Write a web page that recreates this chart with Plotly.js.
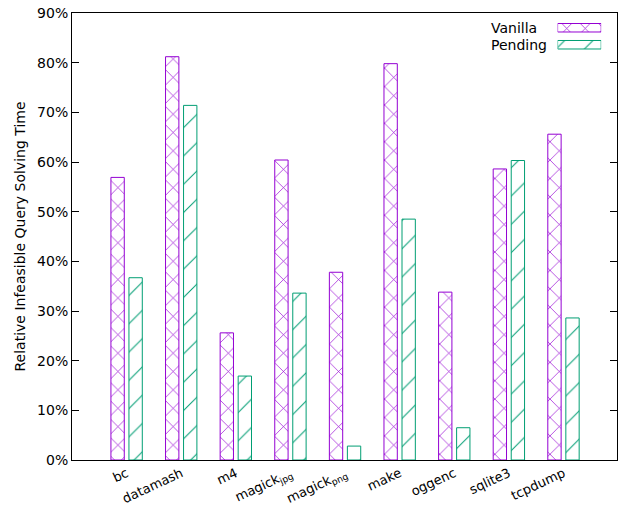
<!DOCTYPE html>
<html>
<head>
<meta charset="utf-8">
<script src="https://cdn.plot.ly/plotly-3.0.1.min.js"></script>
<style>html,body{margin:0;padding:0;background:#fff;}#chart{width:629px;height:505px;}</style>
</head>
<body>
<div id="chart"></div>
<script>
const categories = ["bc", "datamash", "m4", "magick<sub>jpg</sub>", "magick<sub>png</sub>", "make", "oggenc", "sqlite3", "tcpdump"];
const vanilla = [56.9, 81.2, 25.6, 60.4, 37.8, 79.8, 33.8, 58.6, 65.6];
const pending = [36.7, 71.4, 16.9, 33.6, 2.8, 48.5, 6.5, 60.3, 28.6];
const seriesNames = ["Vanilla", "Pending"];
const yTickVals = [0, 10, 20, 30, 40, 50, 60, 70, 80, 90];
const yTickText = yTickVals.map(v => v + "%");

const purple = "#9400d3";
const green = "#009e73";
const font = "DejaVu Sans, sans-serif";

const vanillaPattern = {shape: "x", fgcolor: purple, bgcolor: "#ffffff", size: 13, solidity: 0.1, fillmode: "replace"};
const pendingPattern = {shape: "/", fgcolor: green, bgcolor: "#ffffff", size: 20, solidity: 0.05, fillmode: "replace"};

const traces = [
  {type: "bar", name: seriesNames[0], x: categories, y: vanilla, xaxis: "x", yaxis: "y",
   marker: {color: "#ffffff", pattern: vanillaPattern, line: {color: purple, width: 1}}, showlegend: false},
  {type: "bar", name: seriesNames[1], x: categories, y: pending, xaxis: "x", yaxis: "y",
   marker: {color: "#ffffff", pattern: pendingPattern, line: {color: green, width: 1}}, showlegend: false},
  // legend swatches
  {type: "bar", orientation: "h", x: [1], y: [seriesNames[0]], xaxis: "x2", yaxis: "y2", width: 0.5,
   marker: {color: "#ffffff", pattern: vanillaPattern, line: {color: purple, width: 1}}, showlegend: false, hoverinfo: "skip"},
  {type: "bar", orientation: "h", x: [1], y: [seriesNames[1]], xaxis: "x2", yaxis: "y2", width: 0.5,
   marker: {color: "#ffffff", pattern: pendingPattern, line: {color: green, width: 1}}, showlegend: false, hoverinfo: "skip"}
];

const layout = {
  width: 629, height: 505,
  margin: {l: 72, r: 12, t: 13, b: 45},
  paper_bgcolor: "#ffffff", plot_bgcolor: "#ffffff",
  font: {family: font, size: 14, color: "#000000"},
  barmode: "group", bargap: 0.34, bargroupgap: 0.26,
  showlegend: false,
  xaxis: {
    type: "category", range: [-1, 8.98], tickangle: -25,
    showline: true, linecolor: "#000", linewidth: 1, mirror: true,
    ticks: "", showgrid: false, zeroline: false, ticklabelstandoff: 0,
    tickfont: {family: font, size: 13, color: "#000"}, automargin: false
  },
  yaxis: {
    range: [0, 90], tickvals: yTickVals, ticktext: yTickText,
    showline: true, linecolor: "#000", linewidth: 1, mirror: "ticks",
    ticks: "inside", ticklen: 7, tickcolor: "#000",
    showgrid: false, zeroline: false,
    tickfont: {family: font, size: 14, color: "#000"},
    title: {text: "Relative Infeasible Query Solving Time", font: {family: font, size: 14, color: "#000"}, standoff: 8},
    automargin: false
  },
  xaxis2: {domain: [0.891, 0.971], range: [0, 1], visible: false, anchor: "y2", fixedrange: true},
  yaxis2: {domain: [0.910, 0.986], range: [1.5, -0.5], type: "category", visible: false, anchor: "x2", fixedrange: true},
  annotations: [
    {text: seriesNames[0], xref: "paper", yref: "paper", x: 0.766, y: 0.967, xanchor: "left", yanchor: "middle", showarrow: false, font: {family: font, size: 14, color: "#000"}},
    {text: seriesNames[1], xref: "paper", yref: "paper", x: 0.766, y: 0.929, xanchor: "left", yanchor: "middle", showarrow: false, font: {family: font, size: 14, color: "#000"}}
  ]
};

Plotly.newPlot("chart", traces, layout, {displayModeBar: false, staticPlot: true});
</script>
</body>
</html>
